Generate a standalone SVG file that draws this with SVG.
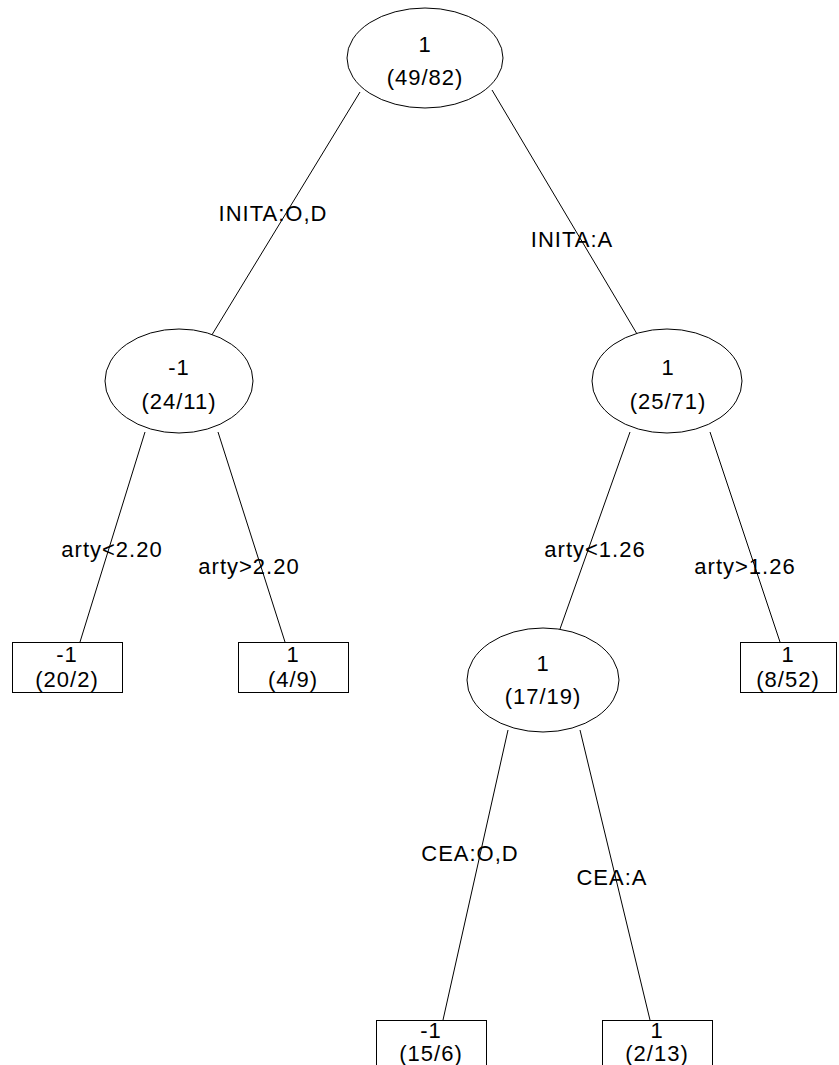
<svg xmlns="http://www.w3.org/2000/svg" width="839" height="1065" viewBox="0 0 839 1065">
<style>
.n{fill:#fff;stroke:#000;stroke-width:1}
.e{stroke:#000;stroke-width:1;fill:none}
text{font-family:"Liberation Sans",Arial,sans-serif;font-size:22px;letter-spacing:1px;fill:#000;text-anchor:middle}
</style>
<rect width="839" height="1065" fill="#fff"/>
<g id="connectors">
<line class="e" x1="360" y1="92" x2="210" y2="338"/>
<line class="e" x1="492" y1="90" x2="640" y2="339"/>
<line class="e" x1="145" y1="432" x2="80" y2="642"/>
<line class="e" x1="218" y1="432" x2="285" y2="642"/>
<line class="e" x1="630" y1="432" x2="560" y2="629"/>
<line class="e" x1="710" y1="432" x2="780" y2="642"/>
<line class="e" x1="508" y1="730" x2="443" y2="1020"/>
<line class="e" x1="580" y1="730" x2="650" y2="1020"/>
</g>
<g id="edge-labels">
<text x="273" y="221">INITA:O,D</text>
<text x="572" y="247">INITA:A</text>
<text x="112" y="557">arty&lt;2.20</text>
<text x="249" y="574">arty&gt;2.20</text>
<text x="595" y="557">arty&lt;1.26</text>
<text x="745" y="574">arty&gt;1.26</text>
<text x="470" y="861">CEA:O,D</text>
<text x="612" y="885">CEA:A</text>
</g>
<g id="n-root">
<ellipse class="n" cx="425" cy="58" rx="78" ry="50"/>
<text x="425" y="52">1</text>
<text x="425" y="85">(49/82)</text>
</g>
<g id="n-left">
<ellipse class="n" cx="179" cy="381" rx="74" ry="52"/>
<text x="179" y="375">-1</text>
<text x="179" y="409">(24/11)</text>
</g>
<g id="n-right">
<ellipse class="n" cx="667" cy="381" rx="75" ry="52"/>
<text x="668" y="375">1</text>
<text x="668" y="409">(25/71)</text>
</g>
<g id="n-mid">
<ellipse class="n" cx="543" cy="680" rx="76" ry="52"/>
<text x="543" y="671">1</text>
<text x="543" y="704">(17/19)</text>
</g>
<g id="leaf-20-2">
<rect class="n" x="12.5" y="642.5" width="110" height="50"/>
<text x="67" y="662">-1</text>
<text x="67" y="687">(20/2)</text>
</g>
<g id="leaf-4-9">
<rect class="n" x="238.5" y="642.5" width="110" height="50"/>
<text x="293" y="662">1</text>
<text x="293" y="687">(4/9)</text>
</g>
<g id="leaf-8-52">
<rect class="n" x="740.5" y="642.5" width="96" height="50"/>
<text x="788" y="662">1</text>
<text x="788" y="687">(8/52)</text>
</g>
<g id="leaf-15-6">
<rect class="n" x="376.5" y="1020.5" width="110" height="60"/>
<text x="431" y="1038">-1</text>
<text x="431" y="1061">(15/6)</text>
</g>
<g id="leaf-2-13">
<rect class="n" x="602.5" y="1020.5" width="110" height="60"/>
<text x="657" y="1038">1</text>
<text x="657" y="1061">(2/13)</text>
</g>
</svg>
